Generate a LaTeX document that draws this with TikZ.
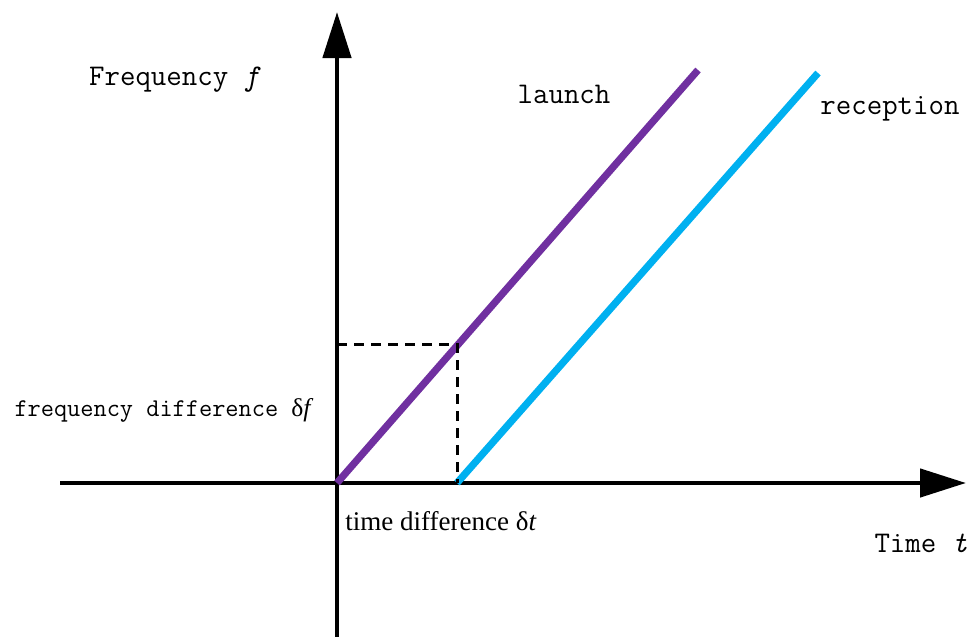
\documentclass[tikz,border=0pt]{standalone}
\usepackage{fontspec}
\setmainfont{Liberation Serif}
\usepackage{xcolor}
\usetikzlibrary{arrows.meta, positioning}

\definecolor{launchpurple}{HTML}{7030A0}
\definecolor{receptcyan}{HTML}{00B0F0}

\tikzset{
  axis/.style={line width=2.3pt, -{Triangle[length=23pt, width=14pt]}},
  sweep/.style={line width=3.6pt},
  guide/.style={line width=1.5pt, dash pattern=on 5pt off 3.5pt},
  monolabel/.style={font=\ttfamily\fontsize{15}{18}\selectfont, inner sep=0pt},
  smalllabel/.style={font=\ttfamily\fontsize{12.8}{15}\selectfont, inner sep=0pt},
  seriflabel/.style={font=\fontsize{13.5}{16}\selectfont, inner sep=0pt}
}

\begin{document}
\begin{tikzpicture}[x=0.5pt, y=-0.5pt]
  \useasboundingbox (0,0) rectangle (970,637);

  % Axes
  \coordinate (O) at (337,483);
  \coordinate (xstart) at (60,483);
  \coordinate (xend) at (966,483);
  \coordinate (ystart) at (337,637);
  \coordinate (yend) at (337,12);
  \draw[axis] (xstart) -- (xend);
  \draw[axis] (ystart) -- (yend);

  % Sweeps: launch starts at origin, reception delayed by dt
  \coordinate (launchtop) at (698,70);
  \coordinate (recstart) at (457,483);
  \coordinate (rectop) at (818,73);
  \coordinate (fmark) at (337,344);
  \coordinate (cross) at (457,344);
  \draw[sweep, launchpurple] (O) -- (launchtop);
  \draw[sweep, receptcyan] (recstart) -- (rectop);

  % Differences
  \draw[guide] (fmark) -- (cross) -- (recstart);

  % Labels
  \node[monolabel] (freqlbl) at (175,80) {Frequency \textit{f}};
  \node[monolabel] (launchlbl) at (564,94) {launch};
  \node[monolabel] (reclbl) at (890,109) {reception};
  \node[monolabel] (timelbl) at (921,543) {Time \textit{t}};
  \node[smalllabel] (dflbl) at (164,410) {frequency difference {\rmfamily δ\textit{f}}};
  \node[seriflabel] (dtlbl) at (441,521) {time difference δ\textit{t}};
\end{tikzpicture}
\end{document}
